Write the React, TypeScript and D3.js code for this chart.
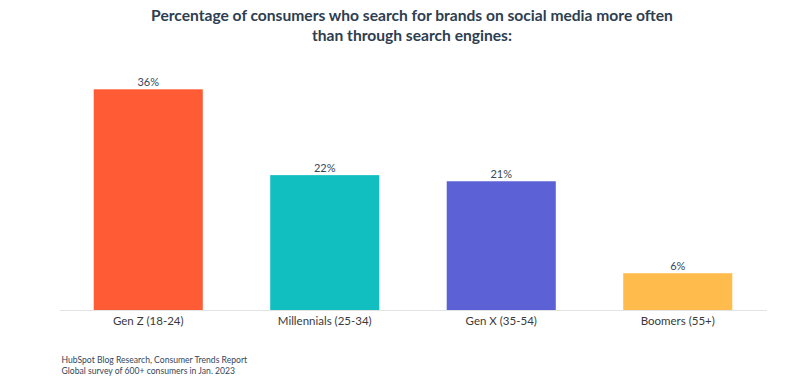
import React from "react";
import * as d3 from "d3";

const categories = ["Gen Z (18-24)", "Millennials (25-34)", "Gen X (35-54)", "Boomers (55+)"];
const values = [36, 22, 21, 6];
const colors = ["#FF5C35", "#12BFC0", "#5C62D6", "#FFBC4C"];
const titleLines = [
  "Percentage of consumers who search for brands on social media more often",
  "than through search engines:",
];
const footerLines = [
  "HubSpot Blog Research, Consumer Trends Report",
  "Global survey of 600+ consumers in Jan. 2023",
];

const W = 805;
const H = 388;

export default function App() {
  const x = d3.scaleBand<string>().domain(categories).range([60, 766]).paddingInner(0.382).paddingOuter(0.191);
  const y = d3.scaleLinear().domain([0, 36]).range([310, 89.3]);
  const font = "Lato, 'Open Sans', sans-serif";
  return (
    <svg width={W} height={H} style={{ position: "absolute", left: 0, top: 0, background: "#fff" }} fontFamily={font}>
      {titleLines.map((t, i) => (
        <text key={i} x={412} y={20.5 + i * 20} textAnchor="middle" fontSize={15.6} fontWeight={700} fill="#2D3E50">
          {t}
        </text>
      ))}
      <line x1={60} x2={767} y1={310.5} y2={310.5} stroke="#E3E3E3" strokeWidth={1} />
      {categories.map((c, i) => (
        <g key={c}>
          <rect x={x(c)} y={y(values[i])} width={x.bandwidth()} height={y(0) - y(values[i])} fill={colors[i]} />
          <text x={x(c)! + x.bandwidth() / 2} y={y(values[i]) - 3} textAnchor="middle" fontSize={11} fill="#33475B">
            {values[i]}%
          </text>
          <text x={x(c)! + x.bandwidth() / 2} y={324.5} textAnchor="middle" fontSize={11.5} fill="#3A3A3A">
            {c}
          </text>
        </g>
      ))}
      {footerLines.map((t, i) => (
        <text key={i} x={61.5} y={363 + i * 11} fontSize={8.6} fill="#33475B">
          {t}
        </text>
      ))}
    </svg>
  );
}
